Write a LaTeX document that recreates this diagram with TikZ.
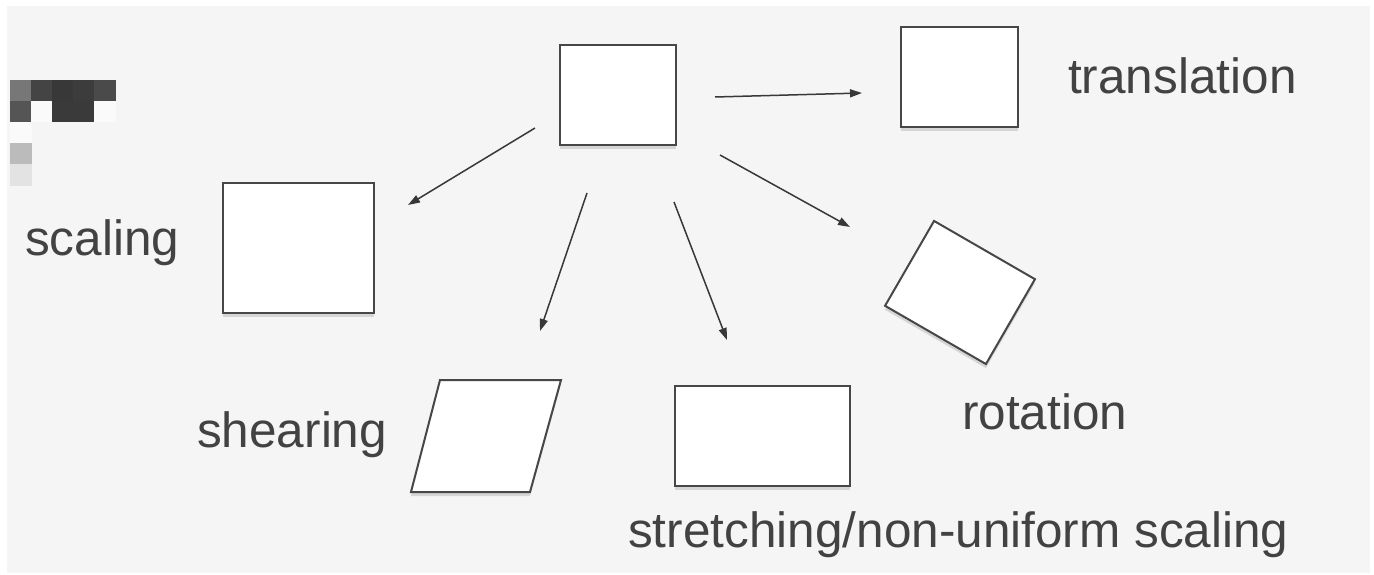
\documentclass[tikz,border=0pt]{standalone}
\usepackage{fontspec}
\setmainfont{Liberation Sans}
\usetikzlibrary{shadows,arrows.meta}
\definecolor{bg}{HTML}{F5F5F5}
\definecolor{boxc}{HTML}{474747}
\definecolor{txtc}{HTML}{424242}
\definecolor{arrc}{HTML}{383838}
\tikzset{
  shapebox/.style={draw=boxc, line width=2pt, fill=white, inner sep=0pt,
    drop shadow={opacity=0.22, shadow xshift=0pt, shadow yshift=-4pt, fill=black!60}},
  lbl/.style={anchor=base west, inner sep=0pt, text=txtc, font=\fontsize{49.5}{58}\selectfont},
  conn/.style={draw=arrc, line width=1.5pt, -{Triangle[length=12pt,width=8pt]}}
}
\begin{document}
\begin{tikzpicture}[x=1pt,y=-1pt]
\useasboundingbox (0,0) rectangle (1374,575);
\fill[bg] (7,6) rectangle (1370,573);
% pixelated blob
\fill[color={rgb,255:red,119;green,119;blue,119}] (10,80) rectangle (31.5,101.5);
\fill[color={rgb,255:red,68;green,68;blue,68}] (31,80) rectangle (52.5,101.5);
\fill[color={rgb,255:red,56;green,56;blue,56}] (52,80) rectangle (73.5,101.5);
\fill[color={rgb,255:red,60;green,60;blue,60}] (73,80) rectangle (94.5,101.5);
\fill[color={rgb,255:red,74;green,74;blue,74}] (94,80) rectangle (116,101.5);
\fill[color={rgb,255:red,85;green,85;blue,85}] (10,101) rectangle (31.5,122.5);
\fill[color={rgb,255:red,250;green,250;blue,250}] (31,101) rectangle (52.5,122.5);
\fill[color={rgb,255:red,58;green,58;blue,58}] (52,101) rectangle (95,122.5);
\fill[color={rgb,255:red,250;green,250;blue,250}] (94,101) rectangle (116,122.5);
\fill[color={rgb,255:red,250;green,250;blue,250}] (10,122) rectangle (31.5,143.5);
\fill[color={rgb,255:red,187;green,187;blue,187}] (10,143) rectangle (31.5,164.5);
\fill[color={rgb,255:red,227;green,227;blue,227}] (10,164) rectangle (31.5,186);
% boxes
\node[shapebox, minimum width=116pt, minimum height=100pt] (orig) at (618,95) {};
\node[shapebox, minimum width=117pt, minimum height=100pt] (trans) at (959.5,77) {};
\node[shapebox, minimum width=151pt, minimum height=130pt] (scal) at (298.5,248) {};
\node[shapebox, minimum width=175pt, minimum height=100pt] (stret) at (762.5,436) {};
\node[shapebox, minimum width=116.5pt, minimum height=98pt, rotate=-30] (rot) at (960,292.5) {};
\path[shapebox] (440,380) -- (561,380) -- (530,492) -- (411,492) -- cycle;
\coordinate (shear) at (485.5,436);
% arrow end points
\coordinate (s1) at (715,97);   \coordinate (e1) at (862,93);
\coordinate (s2) at (535,128);  \coordinate (e2) at (408,205);
\coordinate (s3) at (587,193);  \coordinate (e3) at (540,331);
\coordinate (s4) at (674,202);  \coordinate (e4) at (727,340);
\coordinate (s5) at (720,155);  \coordinate (e5) at (850,227);
\draw[conn] (s1) -- (e1);
\draw[conn] (s2) -- (e2);
\draw[conn] (s3) -- (e3);
\draw[conn] (s4) -- (e4);
\draw[conn] (s5) -- (e5);
% labels
\node[lbl] (ltrans) at (1068,94) {translation};
\node[lbl] (lscal) at (25,255) {scaling};
\node[lbl] (lshear) at (197,447) {shearing};
\node[lbl] (lrot) at (962,429) {rotation};
\node[lbl] (lstret) at (628,547) {stretching/non-uniform scaling};
\end{tikzpicture}
\end{document}
